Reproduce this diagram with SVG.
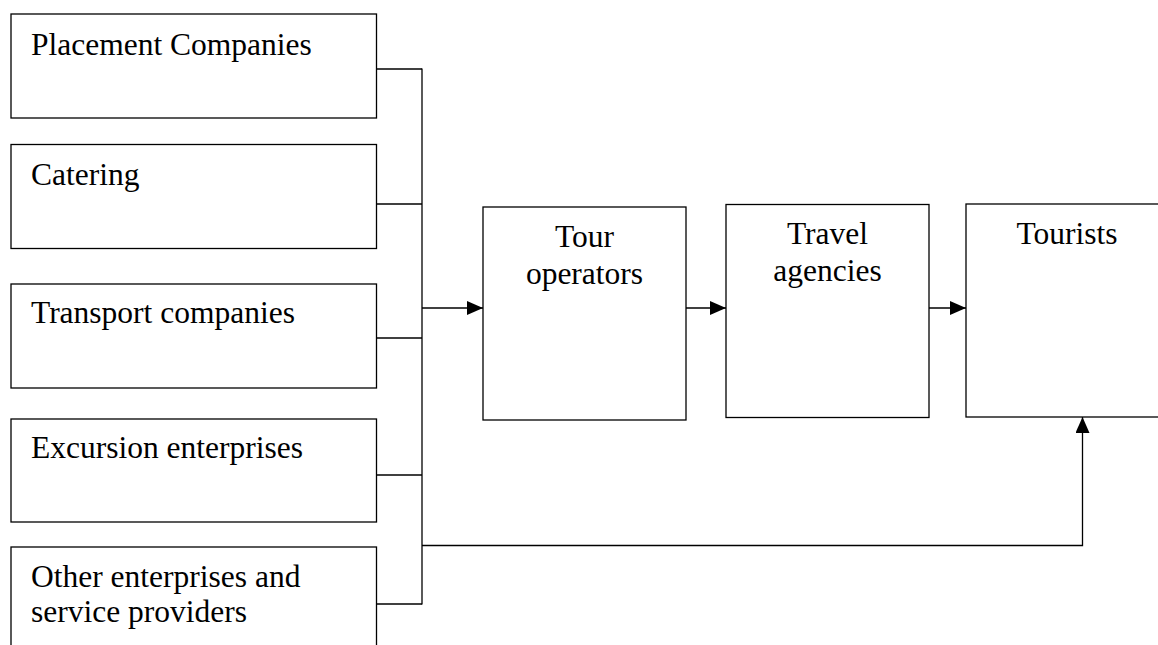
<svg xmlns="http://www.w3.org/2000/svg" width="1158" height="645" viewBox="0 0 1158 645">
  <style>
    .box { fill: #ffffff; stroke: #000000; stroke-width: 1.3; }
    .link { fill: none; stroke: #000000; stroke-width: 1.3; }
    .label { font-family: "Liberation Serif", "Times New Roman", serif; font-size: 31.5px; fill: #000000; }
    .mid { text-anchor: middle; }
  </style>
  <defs>
    <marker id="arrow" viewBox="0 0 16 14" refX="16" refY="7" markerWidth="16" markerHeight="14" markerUnits="userSpaceOnUse" orient="auto">
      <path d="M0,0 L16,7 L0,14 Z" fill="#000000"/>
    </marker>
  </defs>
  <rect width="1158" height="645" fill="#ffffff"/>

  <!-- supplier nodes -->
  <g id="placement">
    <rect class="box" x="11" y="14" width="365.5" height="104"/>
    <text class="label" x="31" y="55">Placement Companies</text>
  </g>
  <g id="catering">
    <rect class="box" x="11" y="144.5" width="365.5" height="104"/>
    <text class="label" x="31" y="185">Catering</text>
  </g>
  <g id="transport">
    <rect class="box" x="11" y="284" width="365.5" height="104"/>
    <text class="label" x="31" y="323">Transport companies</text>
  </g>
  <g id="excursion">
    <rect class="box" x="11" y="419" width="365.5" height="103"/>
    <text class="label" x="31" y="458">Excursion enterprises</text>
  </g>
  <g id="other">
    <rect class="box" x="11" y="547" width="365.5" height="120"/>
    <text class="label" x="31" y="587">Other enterprises and</text>
    <text class="label" x="31" y="622">service providers</text>
  </g>

  <!-- chain nodes -->
  <g id="tour-operators">
    <rect class="box" x="483" y="207" width="203" height="213"/>
    <text class="label mid" x="584.5" y="247">Tour</text>
    <text class="label mid" x="584.5" y="284">operators</text>
  </g>
  <g id="travel-agencies">
    <rect class="box" x="726" y="204.5" width="203" height="213"/>
    <text class="label mid" x="827.5" y="244">Travel</text>
    <text class="label mid" x="827.5" y="281">agencies</text>
  </g>
  <g id="tourists">
    <rect class="box" x="966" y="204" width="202" height="213"/>
    <text class="label mid" x="1067" y="244">Tourists</text>
  </g>

  <!-- connectors -->
  <g id="connectors">
    <line class="link" x1="376.5" y1="69" x2="422" y2="69"/>
    <line class="link" x1="376.5" y1="204" x2="422" y2="204"/>
    <line class="link" x1="376.5" y1="338" x2="422" y2="338"/>
    <line class="link" x1="376.5" y1="475" x2="422" y2="475"/>
    <line class="link" x1="376.5" y1="604" x2="422" y2="604"/>
    <line class="link" x1="422" y1="68.4" x2="422" y2="604.6"/>
    <line class="link" x1="422" y1="308" x2="483" y2="308" marker-end="url(#arrow)"/>
    <line class="link" x1="686" y1="308" x2="726" y2="308" marker-end="url(#arrow)"/>
    <line class="link" x1="929" y1="308" x2="966" y2="308" marker-end="url(#arrow)"/>
    <polyline class="link" points="422,545.5 1082.5,545.5 1082.5,417" marker-end="url(#arrow)"/>
  </g>
</svg>
